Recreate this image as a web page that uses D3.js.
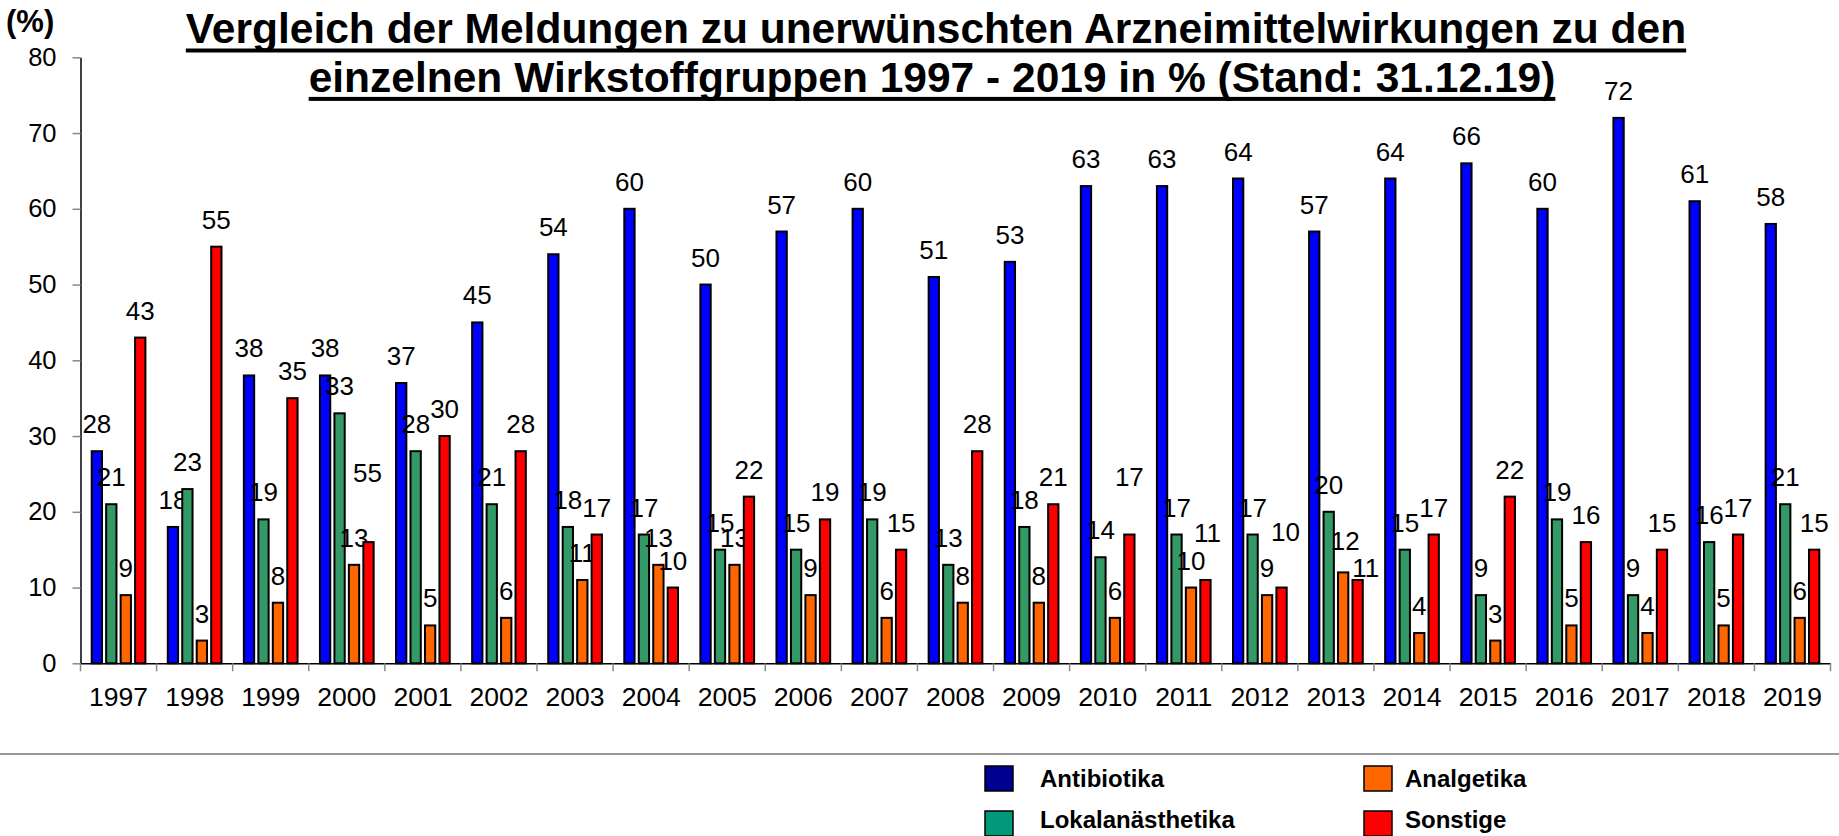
<!DOCTYPE html>
<html>
<head>
<meta charset="utf-8">
<script src="https://cdn.jsdelivr.net/npm/d3@7"></script>
<style>
  html, body { margin: 0; padding: 0; background: #fff; }
  svg { display: block; font-family: "Liberation Sans", Arial, sans-serif; }
</style>
</head>
<body>
<div id="chart"></div>
<script>
// data
const years = ['1997', '1998', '1999', '2000', '2001', '2002', '2003', '2004', '2005', '2006', '2007', '2008',
  '2009', '2010', '2011', '2012', '2013', '2014', '2015', '2016', '2017', '2018', '2019'];
const antibiotika = [28, 18, 38, 38, 37, 45, 54, 60, 50, 57, 60, 51, 53, 63, 63, 64, 57, 64, 66, 60, 72, 61, 58];
const lokalanaesthetika = [21, 23, 19, 33, 28, 21, 18, 17, 15, 15, 19, 13, 18, 14, 17, 17, 20, 15, 9, 19, 9, 16, 21];
const analgetika = [9, 3, 8, 13, 5, 6, 11, 13, 13, 9, 6, 8, 8, 6, 10, 9, 12, 4, 3, 5, 4, 5, 6];
const sonstige = [43, 55, 35, 16, 30, 28, 17, 10, 22, 19, 15, 28, 21, 17, 11, 10, 11, 17, 22, 16, 15, 17, 15];
// the printed label for Sonstige 2000 reads 55 in the original
const sonstigeLabels = ['43', '55', '35', '55', '30', '28', '17', '10', '22', '19', '15', '28', '21', '17', '11', '10',
  '11', '17', '22', '16', '15', '17', '15'];
const yTicks = [0, 10, 20, 30, 40, 50, 60, 70, 80];

const series = [
  { key: 'Antibiotika', values: antibiotika, color: '#0000ff', legend: '#000090' },
  { key: 'Lokalanästhetika', values: lokalanaesthetika, color: '#339966', legend: '#00997a' },
  { key: 'Analgetika', values: analgetika, color: '#ff6600', legend: '#ff6600' },
  { key: 'Sonstige', values: sonstige, labels: sonstigeLabels, color: '#ff0000', legend: '#ff0000' }
];

// labels that were dragged away from their bar in the original
const labelNudge = {
  'Sonstige|2000': [-1, -42],
  'Sonstige|2010': [0, -31],
  'Sonstige|2011': [2, -20],
  'Sonstige|2012': [4, -29],
  'Analgetika|2013': [2, -4],
  'Sonstige|2013': [8, 15]
};

const w = 1839, h = 836;
const plotLeft = 80.5, plotRight = 1830.5, plotTop = 57.3, plotBottom = 663.3;
const font = '"Liberation Sans", Arial, sans-serif';

const svg = d3.select('#chart').append('svg')
  .attr('width', w)
  .attr('height', h);

const x0 = d3.scaleBand().domain(years).range([plotLeft, plotRight]).paddingInner(0.268).paddingOuter(0.134);
const x1 = d3.scaleBand().domain(series.map(s => s.key)).range([0, x0.bandwidth()]).paddingInner(0.15);
const y = d3.scaleLinear().domain([0, 80]).range([plotBottom, plotTop]);

// title
const title = svg.append('g').attr('font-weight', 'bold').attr('font-size', 42.5).attr('fill', '#000');
[['Vergleich der Meldungen zu unerwünschten Arzneimittelwirkungen zu den', 936, 43.3],
 ['einzelnen Wirkstoffgruppen 1997 - 2019 in % (Stand: 31.12.19)', 932, 91.7]].forEach(([t, cx, by]) => {
  const txt = title.append('text')
    .attr('x', cx)
    .attr('y', by)
    .attr('text-anchor', 'middle')
    .text(t);
  const len = txt.node().getComputedTextLength();
  title.append('rect')
    .attr('x', cx - len / 2)
    .attr('y', by + 5.2)
    .attr('width', len)
    .attr('height', 4);
});

svg.append('text')
  .attr('x', 6)
  .attr('y', 32)
  .attr('font-size', 31)
  .attr('font-weight', 'bold')
  .text('(%)');

// y axis
const yAxis = svg.append('g')
  .attr('transform', `translate(${plotLeft},0)`)
  .call(d3.axisLeft(y).tickValues(yTicks).tickSize(8).tickPadding(16).tickSizeOuter(0));
yAxis.select('.domain').attr('stroke', '#000').attr('stroke-width', 1.5);
yAxis.selectAll('.tick line').attr('stroke', '#888').attr('stroke-width', 1.5);
yAxis.selectAll('.tick text')
  .attr('font-size', 25.5)
  .attr('font-family', font)
  .attr('fill', '#000');

// bars and labels, one series after another
series.forEach(s => {
  const g = svg.append('g');
  g.selectAll('rect')
    .data(s.values)
    .join('rect')
    .attr('x', (d, i) => x0(years[i]) + x1(s.key) + 1)
    .attr('y', d => y(d))
    .attr('width', x1.bandwidth() - 2)
    .attr('height', d => y(0) - y(d))
    .attr('fill', s.color)
    .attr('stroke', '#000')
    .attr('stroke-width', 2);

  g.selectAll('text')
    .data(s.values)
    .join('text')
    .attr('x', (d, i) => {
      const n = labelNudge[s.key + '|' + years[i]];
      return x0(years[i]) + x1(s.key) + x1.bandwidth() / 2 + (n ? n[0] : 0);
    })
    .attr('y', (d, i) => {
      const n = labelNudge[s.key + '|' + years[i]];
      return y(d) - 18 + (n ? n[1] : 0);
    })
    .attr('text-anchor', 'middle')
    .attr('font-size', 26)
    .text((d, i) => (s.labels ? s.labels[i] : d));
});

// x axis
const xAxis = svg.append('g')
  .attr('transform', `translate(0,${plotBottom})`)
  .call(d3.axisBottom(x0).tickSize(0).tickPadding(24).tickSizeOuter(0));
xAxis.select('.domain').attr('stroke', '#000').attr('stroke-width', 1.5);
xAxis.selectAll('.tick text')
  .attr('font-size', 26.5)
  .attr('font-family', font)
  .attr('fill', '#000');

// category separators below the axis
svg.append('g')
  .selectAll('line')
  .data(d3.range(years.length + 1))
  .join('line')
  .attr('x1', i => plotLeft + i * x0.step())
  .attr('x2', i => plotLeft + i * x0.step())
  .attr('y1', plotBottom)
  .attr('y2', plotBottom + 8)
  .attr('stroke', '#888')
  .attr('stroke-width', 1.5);

// legend
svg.append('line')
  .attr('x1', 0)
  .attr('x2', w)
  .attr('y1', 754)
  .attr('y2', 754)
  .attr('stroke', '#777')
  .attr('stroke-width', 1.5);

const legendPos = [[985, 766, 786.5], [985, 811, 828.3], [1364, 766, 786.5], [1364, 811, 828.3]];
const legend = svg.append('g')
  .selectAll('g')
  .data(series)
  .join('g')
  .attr('transform', (d, i) => `translate(${legendPos[i][0]},0)`);
legend.append('rect')
  .attr('x', 0)
  .attr('y', (d, i) => legendPos[i][1])
  .attr('width', 28)
  .attr('height', 25)
  .attr('fill', d => d.legend)
  .attr('stroke', '#000')
  .attr('stroke-width', 1.5);
legend.append('text')
  .attr('x', (d, i) => (i < 2 ? 55 : 41))
  .attr('y', (d, i) => legendPos[i][2])
  .attr('font-size', 24)
  .attr('font-weight', 'bold')
  .text(d => d.key);
</script>
</body>
</html>
